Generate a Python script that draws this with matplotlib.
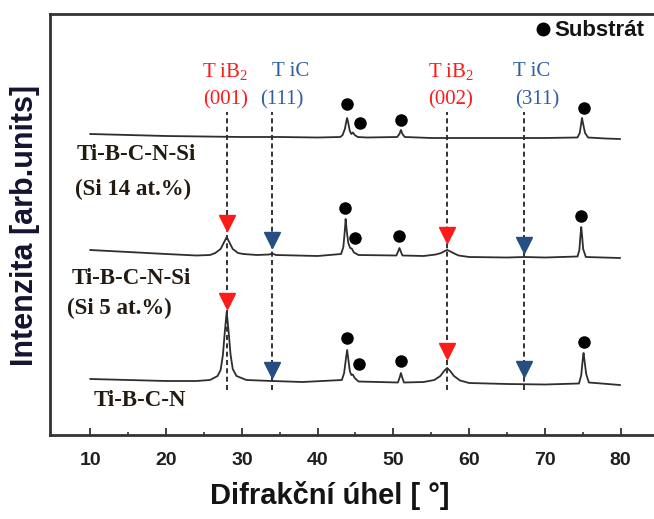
import matplotlib
matplotlib.use("Agg")
import matplotlib.pyplot as plt

plt.rcParams['mathtext.default'] = 'regular'

# ---------------- data (2-theta in degrees, intensity in arb. units) ----------------
top_x = [10, 15, 20, 25, 30, 35, 40, 43.0, 43.3, 43.6, 43.8, 43.9, 44.05, 44.25, 44.45,
         44.65, 44.9, 45.3, 46.5, 50.5, 50.8, 51.0, 51.2, 51.5, 55, 60, 65, 70,
         74.3, 74.6, 74.8, 74.9, 75.05, 75.3, 75.7, 78, 79.9]
top_y = [301, 300, 299, 298.5, 298, 298, 297.5, 298, 300, 306, 314, 317, 312, 304, 301,
         302.5, 300, 298, 297.5, 298, 301, 305, 301, 298, 297, 297, 297, 297,
         297.5, 302, 312, 317, 311, 302, 297.5, 296.5, 296]

mid_x = [10, 15, 20, 24, 25.8, 26.5, 27.2, 27.6, 28.0, 28.4, 28.8, 29.5, 30.2, 32, 33.6,
         34.0, 34.5, 40, 43.1, 43.4, 43.6, 43.7, 43.85, 44.05, 44.3, 44.5, 44.8, 45.4,
         50.4, 50.65, 50.8, 50.95, 51.2, 54, 55.6, 56.3, 56.8, 57.1, 57.4, 57.9, 58.6,
         60, 65, 67.3, 70, 74.3, 74.55, 74.7, 74.8, 74.9, 75.05, 75.4, 79.9]
mid_y = [185, 183, 181, 179.5, 180, 182, 186, 192, 198, 192, 186, 182, 181, 180, 180.5,
         181.5, 180, 179, 181, 188, 205, 216, 204, 192, 187, 186.5, 182.5, 180,
         179.5, 184, 187, 184, 179.5, 179, 180.5, 182, 184, 185, 184, 182, 179.5,
         178, 177.5, 178, 177.5, 178.5, 185, 200, 208, 200, 186, 178, 177]

bot_x = [10, 15, 20, 24, 25.8, 26.8, 27.2, 27.5, 27.75, 28.0, 28.25, 28.5, 28.8, 29.3,
         30.6, 34, 38, 43.2, 43.5, 43.75, 43.9, 44.05, 44.25, 44.45, 44.65, 44.9, 45.4,
         50.6, 50.85, 51.0, 51.15, 51.4, 54, 55.4, 56.2, 56.7, 57.1, 57.5, 58.0, 58.8,
         60, 65, 70, 74.5, 74.8, 75.0, 75.1, 75.2, 75.45, 75.8, 79.9]
bot_y = [56, 55, 54, 54, 55, 59, 65, 80, 103, 123, 104, 81, 66, 59,
         55, 54, 53, 55, 62, 77, 85, 76, 64, 60, 60.5, 57, 53.5,
         52.5, 58, 62, 58, 52.5, 53, 55, 59, 64, 67, 64, 59, 54.5,
         52, 51, 50.5, 51.5, 60, 76, 82, 76, 61, 52.5, 50]

# substrate markers
sub_top_x = [43.9, 45.6, 51.0, 75.1]
sub_top_y = [331, 312, 315, 327]
sub_mid_x = [43.6, 45.0, 50.8, 74.8]
sub_mid_y = [227, 197, 199, 219]
sub_bot_x = [43.9, 45.4, 51.0, 75.1]
sub_bot_y = [97, 71, 74, 93]

# phase reference positions
tib2_pos = [28.1, 57.1]
tic_pos = [34.0, 67.3]
tib2_mid_y = [212.5, 200.5]
tib2_bot_y = [134.5, 84.5]
tic_mid_y = [195.5, 190.5]
tic_bot_y = [65, 66.5]
ref_line_top = 323
ref_line_bottom = 45

tib2_labels = ["(001)", "(002)"]
tic_labels = ["(111)", "(311)"]

sample_labels = ["Ti-B-C-N-Si", "(Si 14 at.%)", "Ti-B-C-N-Si", "(Si 5 at.%)", "Ti-B-C-N"]
sample_label_x = [16.0, 15.6, 15.4, 13.9, 16.6]
sample_label_y = [280, 246, 157, 127, 35]

xticks = [10, 20, 30, 40, 50, 60, 70, 80]
xminor = [15, 25, 35, 45, 55, 65, 75]

# ---------------- figure ----------------
W, H = 654, 519
fig = plt.figure(figsize=(W / 100, H / 100), dpi=100)
ax = fig.add_axes([50 / W, 84 / H, 1 - 50 / W, 421 / H])
ax.set_xlim(4.68, 84.4)
ax.set_ylim(0, 421)

RED = '#ff1a1a'
BLUE_TRI = '#244f80'
BLUE_TXT = '#2f5f9f'
CURVE = '#2e2e2e'
TXT = '#231a12'

for xs, ys in [(top_x, top_y), (mid_x, mid_y), (bot_x, bot_y)]:
    ax.plot(xs, ys, color=CURVE, lw=1.3, zorder=3)

for p in tib2_pos + tic_pos:
    ax.plot([p, p], [ref_line_bottom, ref_line_top], color='#111111', lw=1.2,
            ls=(0, (3, 2)), zorder=2)

for xs, ys in [(sub_top_x, sub_top_y), (sub_mid_x, sub_mid_y), (sub_bot_x, sub_bot_y)]:
    ax.plot(xs, ys, 'o', color='black', ms=8, zorder=4)

ax.plot(tib2_pos, tib2_mid_y, 'v', color=RED, ms=11, zorder=5)
ax.plot(tib2_pos, tib2_bot_y, 'v', color=RED, ms=11, zorder=5)
ax.plot(tic_pos, tic_mid_y, 'v', color=BLUE_TRI, ms=11, zorder=5)
ax.plot(tic_pos, tic_bot_y, 'v', color=BLUE_TRI, ms=11, zorder=5)

serif = ['Liberation Serif', 'DejaVu Serif']
sans = ['Liberation Sans', 'DejaVu Sans']

# phase labels
tib2_name_x = [27.8, 57.6]
tib2_hkl_x = [27.9, 57.5]
tic_name_x = [36.4, 68.3]
tic_hkl_x = [35.3, 69.0]
for i in range(2):
    ax.text(tib2_name_x[i], 363, r"T iB$_2$", color=RED, fontsize=15, family=serif,
            ha='center', va='center')
    ax.text(tib2_hkl_x[i], 335, tib2_labels[i], color=RED, fontsize=15, family=serif,
            ha='center', va='center')
    ax.text(tic_name_x[i], 363, "T iC", color=BLUE_TXT, fontsize=15, family=serif,
            ha='center', va='center')
    ax.text(tic_hkl_x[i], 335, tic_labels[i], color=BLUE_TXT, fontsize=15, family=serif,
            ha='center', va='center')

for s, x, y in zip(sample_labels, sample_label_x, sample_label_y):
    ax.text(x, y, s, color=TXT, fontsize=16.5, family=serif, fontweight='bold',
            ha='center', va='center')

# legend
ax.plot([69.75], [406], 'o', color='black', ms=9, clip_on=False, zorder=5)
ax.text(71.3, 405, "Substrát", fontsize=16, family=sans, fontweight='bold',
        color='#141414', ha='left', va='center')

# axes styling
for side in ['left', 'bottom', 'top']:
    ax.spines[side].set_linewidth(2.0)
    ax.spines[side].set_color('#333333')
ax.spines['right'].set_visible(False)

ax.set_yticks([])
ax.set_xticks(xticks)
ax.set_xticks(xminor, minor=True)
ax.tick_params(axis='x', which='major', direction='in', length=5, width=1.3,
               color='#333333', pad=12, labelsize=14, labelcolor='#1f1f1f')
ax.tick_params(axis='x', which='minor', direction='in', length=2.5, width=1.2,
               color='#333333')
for lab in ax.get_xticklabels():
    lab.set_fontweight('bold')
    lab.set_family(sans)

fig.text(330 / W, 1 - 496 / H, "Difrakční úhel [ °]", fontsize=21, fontweight='bold',
         family=sans, ha='center', va='center', color='#141414')
fig.text(25 / W, 1 - 225 / H, "Intenzita [arb.units]", fontsize=22, fontweight='bold',
         family=sans, ha='center', va='center', rotation=90, color='#141430')

fig.savefig("out.png", dpi=100)
